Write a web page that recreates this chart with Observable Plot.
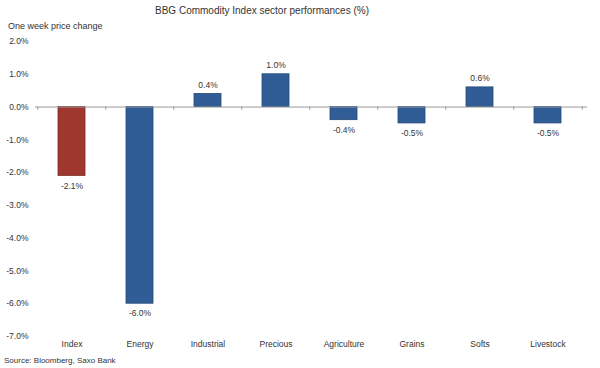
<!DOCTYPE html>
<html><head><meta charset="utf-8">
<script src="https://cdn.jsdelivr.net/npm/d3@7"></script>
<script src="https://cdn.jsdelivr.net/npm/@observablehq/plot@0.6"></script>
<style>
body{margin:0;background:#fff;font-family:"Liberation Sans",Arial,sans-serif;color:#333;}
#wrap{width:600px;height:368px;position:relative;overflow:hidden;}
#title{position:absolute;top:5px;left:0;width:524px;text-align:center;font-size:10px;color:#333;}
#sub{position:absolute;top:21px;left:8px;font-size:9px;color:#333;}
#chart{position:absolute;top:34px;left:0;}
#src{position:absolute;top:356px;left:4px;font-size:8px;color:#333;}
</style></head>
<body><div id="wrap">
<div id="title">BBG Commodity Index sector performances (%)</div>
<div id="sub">One week price change</div>
<div id="chart"></div>
<div id="src">Source: Bloomberg, Saxo Bank</div>
</div>
<script>
const categories = ["Index","Energy","Industrial","Precious","Agriculture","Grains","Softs","Livestock"];
const values = [-2.1, -6.0, 0.4, 1.0, -0.4, -0.5, 0.6, -0.5];
const yTicks = [2,1,0,-1,-2,-3,-4,-5,-6,-7];

const data = categories.map((c,i)=>({cat:c, v:values[i], hl: i===0}));
const fmt = d => d.toFixed(1) + "%";
const step = (583-35)/categories.length;

const chart = Plot.plot({
  width: 600, height: 321,
  marginLeft: 35, marginRight: 13, marginTop: 7, marginBottom: 19,
  style: {fontFamily: "Liberation Sans, Arial, sans-serif", fontSize: "8.5px", color: "#333", background: "#fff"},
  x: {domain: categories, paddingInner: 0.61, paddingOuter: 0.305, insetRight: 4, label: null},
  y: {domain: [-7, 2], label: null},
  marks: [
    Plot.axisY({ticks: yTicks, tickFormat: fmt, tickSize: 0, tickPadding: 7, label: null}),
    Plot.axisX({tickSize: 0, tickPadding: 4, label: null}),
    Plot.barY(data, {x: "cat", y: "v", fill: d => d.hl ? "#9f372f" : "#315d97", stroke: d => d.hl ? "#7d2a22" : "#264a7a", strokeWidth: 0.8}),
    Plot.ruleY([0], {stroke: "#9a9a9a", strokeWidth: 1}),
    Plot.ruleX(categories, {x: d => d, dx: -step/2, y1: 0, y2: -0.1, stroke: "#9a9a9a"}),
    Plot.ruleX([categories[categories.length-1]], {x: d => d, dx: step/2, y1: 0, y2: -0.1, stroke: "#9a9a9a"}),
    Plot.text(data.filter(d => d.v >= 0), {x: "cat", y: "v", text: d => fmt(d.v), dy: -9, fill: "#333"}),
    Plot.text(data.filter(d => d.v < 0), {x: "cat", y: "v", text: d => fmt(d.v), dy: 10, fill: "#333"}),
  ]
});
document.getElementById("chart").appendChild(chart);
</script>
</body></html>
